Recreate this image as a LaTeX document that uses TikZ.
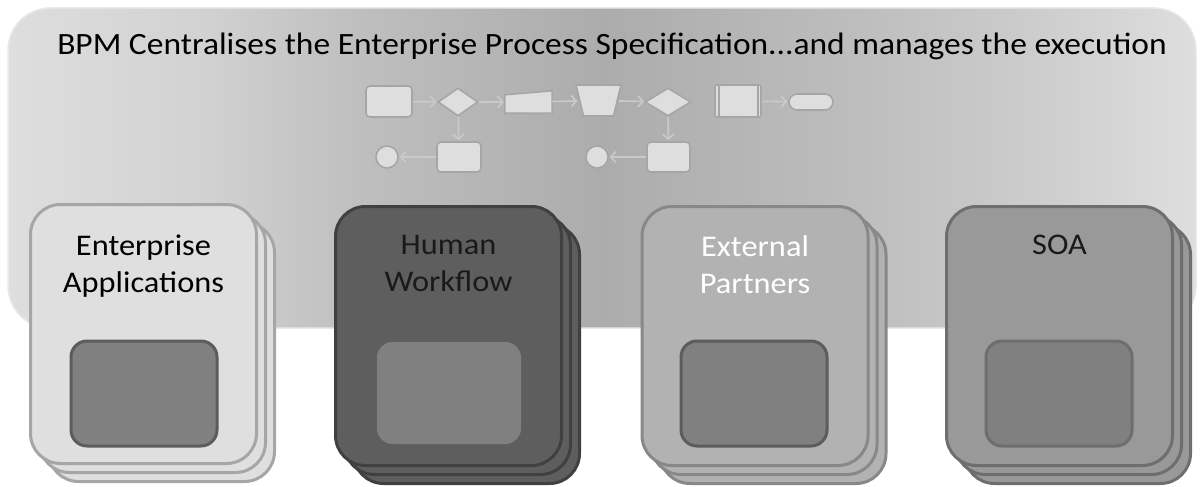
\documentclass[tikz,border=0pt]{standalone}
\usepackage{fontspec}
\setmainfont{Carlito}[FakeStretch=1.08]
\usetikzlibrary{shapes.geometric,arrows.meta,calc}
\definecolor{bgA}{HTML}{DEDEDE}
\definecolor{bgB}{HTML}{D2D2D2}
\definecolor{bgC}{HTML}{BEBEBE}
\definecolor{bgM}{HTML}{ACACAC}
\definecolor{bgE}{HTML}{BCBCBC}
\definecolor{bgF}{HTML}{CCCCCC}
\definecolor{bgG}{HTML}{DEDEDE}
\definecolor{bgD}{HTML}{E9E9E9}
\definecolor{fcF}{HTML}{DEDEDE}
\definecolor{fcD}{HTML}{A6A6A6}
\definecolor{fcA}{HTML}{CACACA}
\definecolor{eaF}{HTML}{DFDFDF}
\definecolor{eaD}{HTML}{A6A6A6}
\definecolor{hwF}{HTML}{5E5E5E}
\definecolor{hwD}{HTML}{404040}
\definecolor{epF}{HTML}{B2B2B2}
\definecolor{epD}{HTML}{888888}
\definecolor{soF}{HTML}{999999}
\definecolor{soD}{HTML}{6E6E6E}
\definecolor{inF}{HTML}{808080}
\definecolor{inD}{HTML}{5C5C5C}
\definecolor{txD}{HTML}{1A1A1A}
\pgfdeclarehorizontalshading{bgshade}{100bp}{color(0bp)=(bgA); color(25bp)=(bgA); color(33bp)=(bgB); color(40bp)=(bgC); color(50bp)=(bgM); color(60bp)=(bgE); color(68bp)=(bgF); color(75bp)=(bgG); color(100bp)=(bgG)}
\begin{document}
\begin{tikzpicture}[x=1pt,y=-1pt,
  bgbox/.style={rectangle, rounded corners=42, minimum width=1188, minimum height=320,
    shading=bgshade, draw=bgD, line width=1.5, inner sep=0},
  titletext/.style={font=\fontsize{31}{36}\selectfont, inner sep=0, anchor=base},
  fcshape/.style={fill=fcF, draw=fcD, line width=1.6, inner sep=0},
  fcline/.style={draw=fcD, line width=1.6},
  fcghost/.style={rectangle, inner sep=0, draw=none},
  fcarrow/.style={draw=fcA, line width=1.6, -{Straight Barb[length=5,width=11,line width=1.6]}, shorten >=1},
  card/.style={rectangle, rounded corners=30, minimum width=226, minimum height=259, line width=3, inner sep=0},
  innerbox/.style={rectangle, rounded corners=16, minimum width=146, minimum height=105, line width=3, inner sep=0},
  lbl/.style={font=\fontsize{30}{37}\selectfont, align=center, anchor=north, inner sep=0},
]
\useasboundingbox (0,0) rectangle (1203,487);

% background panel
\node[bgbox] (bg) at (602,168) {};
\node[titletext] (title) at (612,55) {BPM Centralises the Enterprise Process Specification...and manages the execution};

% flowchart icons
\node[fcshape, rectangle, rounded corners=4, minimum width=46, minimum height=31] (r1) at (389,101.5) {};
\node[fcshape, diamond, minimum width=40, minimum height=28] (d1) at (458,102) {};
\node[fcghost, minimum width=47, minimum height=22] (t1) at (528.5,102) {};
\draw[fcshape] ($(t1.north west)+(0,4)$) -- (t1.north east) -- (t1.south east) -- (t1.south west) -- cycle;
\node[fcghost, minimum width=40, minimum height=31] (t2) at (598.5,100.5) {};
\draw[fcshape] ($(t2)+(-22.5,-15.5)$) -- ($(t2)+(22.5,-15.5)$) -- ($(t2)+(15,15.5)$) -- ($(t2)+(-15,15.5)$) -- cycle;
\node[fcshape, diamond, minimum width=46, minimum height=28] (d2) at (668,102) {};
\node[fcshape, rectangle, rounded corners=2, minimum width=46, minimum height=32] (p1) at (738,101) {};
\draw[fcline] ($(p1.north west)+(5,0)$) -- ($(p1.south west)+(5,0)$);
\draw[fcline] ($(p1.north east)+(-4,0)$) -- ($(p1.south east)+(-4,0)$);
\node[fcshape, rectangle, rounded corners=8, minimum width=44, minimum height=16] (tm) at (811,102) {};
\node[fcshape, circle, minimum size=22] (c1) at (387,157) {};
\node[fcshape, rectangle, rounded corners=4, minimum width=44, minimum height=30] (r2) at (459,157) {};
\node[fcshape, circle, minimum size=22] (c2) at (597,157) {};
\node[fcshape, rectangle, rounded corners=4, minimum width=43, minimum height=30] (r3) at (668.5,157) {};

\draw[fcarrow] (r1) -- (d1);
\draw[fcarrow] (d1) -- (t1);
\draw[fcarrow] (t1) -- (t2);
\draw[fcarrow] (t2) -- (d2);
\draw[fcarrow] (p1) -- (tm);
\draw[fcarrow] (d1) -- (r2);
\draw[fcarrow] (r2) -- (c1);
\draw[fcarrow] (d2) -- (r3);
\draw[fcarrow] (r3) -- (c2);

% Enterprise Applications
\node[card, fill=eaF, draw=eaD] (ea3) at (161.5,352) {};
\node[card, fill=eaF, draw=eaD] (ea2) at (152.5,343) {};
\node[card, fill=eaF, draw=eaD] (ea) at (143.5,334) {};
\node[lbl, text=black] (ealbl) at (143.5,235) {Enterprise\\Applications};
\node[innerbox, fill=inF, draw=inD] (eain) at (144,393.5) {};

% Human Workflow
\node[card, fill=hwF, draw=hwD] (hw3) at (466.5,354) {};
\node[card, fill=hwF, draw=hwD] (hw2) at (457.5,345) {};
\node[card, fill=hwF, draw=hwD] (hw) at (448.5,336) {};
\node[lbl, text=txD] (hwlbl) at (448.5,235) {Human\\Workflow};
\node[innerbox, fill=inF, draw=inF, rounded corners=14, minimum width=141, minimum height=99] (hwin) at (449,393) {};

% External Partners
\node[card, fill=epF, draw=epD] (ep3) at (773,354) {};
\node[card, fill=epF, draw=epD] (ep2) at (764,345) {};
\node[card, fill=epF, draw=epD] (ep) at (755,336) {};
\node[lbl, text=white] (eplbl) at (755,235) {External\\Partners};
\node[innerbox, fill=inF, draw=inD] (epin) at (754,393.5) {};

% SOA
\node[card, fill=soF, draw=soD] (so3) at (1077.5,354) {};
\node[card, fill=soF, draw=soD] (so2) at (1068.5,345) {};
\node[card, fill=soF, draw=soD] (so) at (1059.5,336) {};
\node[lbl, text=txD] (solbl) at (1059.5,235) {SOA};
\node[innerbox, fill=inF, draw=soD] (soin) at (1059,393.5) {};
\end{tikzpicture}
\end{document}
